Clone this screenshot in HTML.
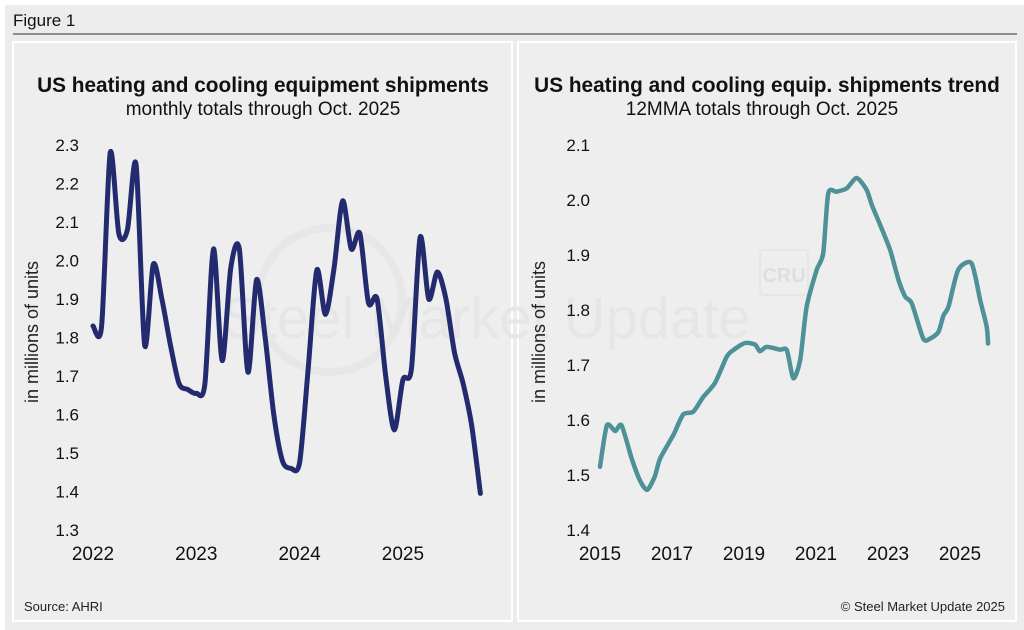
<!DOCTYPE html>
<html><head><meta charset="utf-8"><style>
html,body{margin:0;padding:0;background:#fff}
svg{display:block;font-family:"Liberation Sans",Arial,sans-serif}
</style></head><body>
<svg id="fig" width="1024" height="630" viewBox="0 0 1024 630">
<rect x="5" y="5" width="1019" height="625" fill="#ececec"/>
<text x="13" y="26" font-size="17" fill="#111">Figure 1</text>
<line x1="13" y1="34" x2="1017" y2="34" stroke="#555" stroke-width="1.3"/>
<rect x="13" y="42" width="499" height="579" fill="#eeeeee" stroke="#fff" stroke-width="2"/>
<rect x="518" y="42" width="498" height="579" fill="#eeeeee" stroke="#fff" stroke-width="2"/>
<g>
<circle cx="330" cy="300" r="72" fill="none" stroke="#e7e7e7" stroke-width="8"/>
<text x="222" y="338" font-size="58" fill="#e6e6e6">Steel Market Update</text>
<rect x="760" y="250" width="48" height="45" rx="3" fill="none" stroke="#e4e4e4" stroke-width="1.5"/>
<text x="784" y="282" font-size="20" font-weight="bold" text-anchor="middle" fill="#dedede">CRU</text>
</g>
<text x="263" y="92" font-size="20.8" font-weight="bold" text-anchor="middle" fill="#111">US heating and cooling equipment shipments</text>
<text x="263" y="115" font-size="19" text-anchor="middle" fill="#111">monthly totals through Oct. 2025</text>
<text x="767" y="92" font-size="20.8" font-weight="bold" text-anchor="middle" fill="#111">US heating and cooling equip. shipments trend</text>
<text x="762" y="115" font-size="19" text-anchor="middle" fill="#111">12MMA totals through Oct. 2025</text>
<text transform="translate(38,332) rotate(-90)" font-size="18" text-anchor="middle" fill="#222">in millions of units</text>
<text transform="translate(545,332) rotate(-90)" font-size="18" text-anchor="middle" fill="#222">in millions of units</text>
<text x="24" y="611" font-size="13" fill="#222">Source: AHRI</text>
<text x="1005" y="611" font-size="13" text-anchor="end" fill="#222">© Steel Market Update 2025</text>
<g id="left"></g><g id="right"></g>
</svg>
<script>
const leftTicks=[1.3,1.4,1.5,1.6,1.7,1.8,1.9,2.0,2.1,2.2,2.3];
const leftYears=[2022,2023,2024,2025];
const leftValues=[1.83,1.83,2.28,2.07,2.08,2.25,1.78,1.99,1.90,1.78,1.68,1.665,
1.655,1.68,2.03,1.74,1.98,2.03,1.71,1.95,1.80,1.60,1.48,1.46,
1.475,1.72,1.975,1.86,1.98,2.155,2.03,2.07,1.89,1.90,1.70,1.56,
1.69,1.72,2.06,1.90,1.97,1.90,1.76,1.68,1.57,1.395];
const rightTicks=[1.4,1.5,1.6,1.7,1.8,1.9,2.0,2.1];
const rightYears=[2015,2017,2019,2021,2023,2025];
const rightDates=[2015.0,2015.19,2015.42,2015.6,2015.88,2016.11,2016.31,2016.52,2016.67,2017.04,2017.31,2017.59,2017.87,2018.19,2018.52,2018.7,2019.03,2019.31,2019.44,2019.63,2020.0,2020.19,2020.37,2020.56,2020.74,2021.02,2021.2,2021.34,2021.57,2021.85,2022.13,2022.41,2022.55,2022.78,2023.06,2023.29,2023.48,2023.66,2023.98,2024.17,2024.4,2024.54,2024.68,2024.95,2025.32,2025.56,2025.74,2025.78];
const rightValues=[1.515,1.59,1.58,1.59,1.53,1.49,1.473,1.497,1.53,1.573,1.61,1.615,1.642,1.667,1.715,1.727,1.74,1.737,1.725,1.733,1.728,1.727,1.676,1.709,1.806,1.873,1.903,2.012,2.015,2.021,2.04,2.018,1.991,1.955,1.909,1.855,1.824,1.812,1.748,1.748,1.76,1.79,1.806,1.873,1.885,1.818,1.77,1.739];
const NS='http://www.w3.org/2000/svg';
function mk(tag,attrs,parent){const e=document.createElementNS(NS,tag);for(const k in attrs)e.setAttribute(k,attrs[k]);parent.appendChild(e);return e;}
function smooth(pts,t){let d='M'+pts[0][0]+','+pts[0][1];for(let i=0;i<pts.length-1;i++){const p0=pts[i-1]||pts[i],p1=pts[i],p2=pts[i+1],p3=pts[i+2]||p2;d+=' C'+(p1[0]+(p2[0]-p0[0])*t)+','+(p1[1]+(p2[1]-p0[1])*t)+' '+(p2[0]-(p3[0]-p1[0])*t)+','+(p2[1]-(p3[1]-p1[1])*t)+' '+p2[0]+','+p2[1];}return d;}
const L=document.getElementById('left'),R=document.getElementById('right');
const lx=m=>93+m*(103.3/12), ly=v=>145+(2.3-v)*385;
leftTicks.forEach(t=>{const e=mk('text',{x:79,y:ly(t)+6,'font-size':17,'text-anchor':'end',fill:'#111'},L);e.textContent=t.toFixed(1);

});
leftYears.forEach(y=>{const e=mk('text',{x:lx((y-2022)*12),y:560,'font-size':19,'text-anchor':'middle',fill:'#111'},L);e.textContent=y;

});
const lp=mk('path',{d:smooth(leftValues.map((v,i)=>[lx(i),ly(v)]),0.14),fill:'none',stroke:'#232b6e','stroke-width':5,'stroke-linejoin':'round','stroke-linecap':'round'},L);


const rx=y=>600+(y-2015)*36, ry=v=>145+(2.1-v)*550;
rightTicks.forEach(t=>{const e=mk('text',{x:590,y:ry(t)+6,'font-size':17,'text-anchor':'end',fill:'#111'},R);e.textContent=t.toFixed(1);

});
rightYears.forEach(y=>{const e=mk('text',{x:rx(y),y:560,'font-size':19,'text-anchor':'middle',fill:'#111'},R);e.textContent=y;

});
const rp=mk('path',{d:smooth(rightDates.map((d,i)=>[rx(d),ry(rightValues[i])]),0.12),fill:'none',stroke:'#4e9199','stroke-width':4.5,'stroke-linejoin':'round','stroke-linecap':'round'},R);


</script>
</body></html>
